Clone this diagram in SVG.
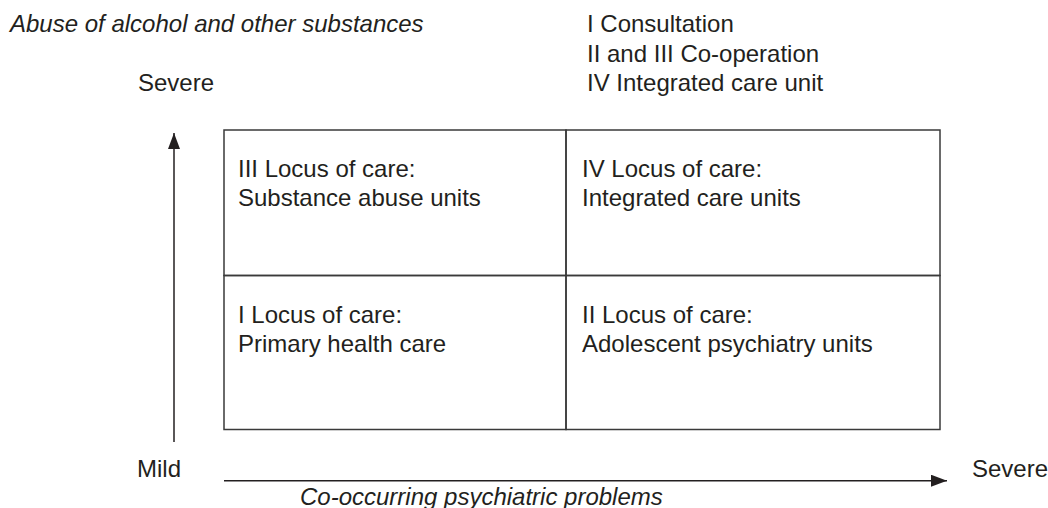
<svg xmlns="http://www.w3.org/2000/svg" width="1048" height="508" viewBox="0 0 1048 508">
<style>
text{font-family:"Liberation Sans",Arial,sans-serif;font-size:24px;fill:#231f20}
.it{font-style:italic}
.box{fill:none;stroke:#3a3a3a;stroke-width:1.5}
.ax{stroke:#231f20;stroke-width:1.5;fill:none}
</style>
<defs>
<marker id="ah" viewBox="0 0 16 12" refX="16" refY="6" markerWidth="16" markerHeight="12" markerUnits="userSpaceOnUse" orient="auto">
<path d="M0,0 L16,6 L0,12 Z" fill="#231f20"/>
</marker>
</defs>
<rect width="1048" height="508" fill="#fff"/>
<g id="labels">
<text class="it" x="10" y="31.5">Abuse of alcohol and other substances</text>
<text x="138" y="90.5">Severe</text>
<text x="587" y="32">I Consultation</text>
<text x="587" y="61.5">II and III Co-operation</text>
<text x="587" y="90.5">IV Integrated care unit</text>
<text x="137" y="476.5">Mild</text>
<text x="972" y="476.5">Severe</text>
<text class="it" x="300" y="505">Co-occurring psychiatric problems</text>
</g>
<g id="connectors">
<line class="ax" x1="174" y1="442" x2="174" y2="133" marker-end="url(#ah)"/>
<line class="ax" x1="224" y1="480.7" x2="947" y2="480.7" marker-end="url(#ah)"/>
</g>
<g id="q3">
<rect class="box" x="224" y="130" width="342" height="145.5"/>
<text x="238" y="176.5">III Locus of care:</text>
<text x="238" y="205.5">Substance abuse units</text>
</g>
<g id="q4">
<rect class="box" x="566" y="130" width="374" height="145.5"/>
<text x="582" y="176.5">IV Locus of care:</text>
<text x="582" y="205.5">Integrated care units</text>
</g>
<g id="q1">
<rect class="box" x="224" y="275.5" width="342" height="154"/>
<text x="238" y="323">I Locus of care:</text>
<text x="238" y="352">Primary health care</text>
</g>
<g id="q2">
<rect class="box" x="566" y="275.5" width="374" height="154"/>
<text x="582" y="323">II Locus of care:</text>
<text x="582" y="352">Adolescent psychiatry units</text>
</g>
</svg>
